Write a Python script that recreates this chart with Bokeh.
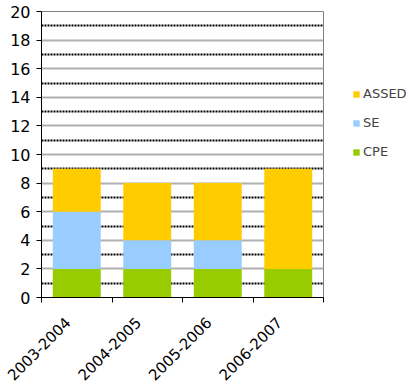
from bokeh.plotting import figure
from bokeh.models import (Range1d, LinearAxis, FixedTicker, SingleIntervalTicker,
                          Legend, LegendItem, ColumnDataSource, Grid)
from bokeh.embed import file_html
from bokeh.resources import INLINE
import math

# School years and the three programme counts per year
years = ["2003-2004", "2004-2005", "2005-2006", "2006-2007"]
cpe = [2, 2, 2, 2]
se = [4, 2, 2, 0]
assed = [3, 4, 4, 7]

series = ["CPE", "SE", "ASSED"]
colors = ["#99CC00", "#99CCFF", "#FFCC00"]

FONT = "DejaVu Sans"
Y_MAX = 20

positions = [i + 0.5 for i in range(len(years))]
boundaries = list(range(len(years) + 1))
source = ColumnDataSource(dict(x=positions, CPE=cpe, SE=se, ASSED=assed))

p = figure(frame_width=282, frame_height=286, output_backend="svg", toolbar_location=None,
           x_range=Range1d(0, len(years)), y_range=Range1d(0, Y_MAX),
           min_border_left=41, min_border_right=86, min_border_top=11, min_border_bottom=90,
           x_axis_type=None, y_axis_type=None)
p.outline_line_color = "#808080"
p.outline_line_width = 1
p.background_fill_color = "white"
p.border_fill_color = "white"

# y axis labelled every 2
yticker = SingleIntervalTicker(interval=2, num_minor_ticks=0)
yaxis = LinearAxis(ticker=yticker)
yaxis.axis_line_color = "black"
yaxis.major_tick_line_color = "black"
yaxis.major_tick_out = 5
yaxis.major_tick_in = 0
yaxis.minor_tick_line_color = None
yaxis.major_label_standoff = 6
yaxis.major_label_text_font = FONT
yaxis.major_label_text_font_size = "16px"
yaxis.major_label_text_color = "black"
p.add_layout(yaxis, "left")

# solid grey lines on the even values
even_grid = Grid(dimension=1, ticker=yticker)
even_grid.grid_line_color = "#B0B0B0"
even_grid.grid_line_width = 2
even_grid.minor_grid_line_color = None
p.add_layout(even_grid)

# dotted black lines on the odd values
odd_grid = Grid(dimension=1, ticker=FixedTicker(ticks=list(range(1, Y_MAX, 2))))
odd_grid.grid_line_color = "black"
odd_grid.grid_line_dash = "2 1"
odd_grid.grid_line_width = 2
p.add_layout(odd_grid)

# x axis: year labels near the category centres, tick marks on the boundaries
label_shift = 0.13
label_pos = [x - label_shift for x in positions]
xaxis = LinearAxis(ticker=FixedTicker(ticks=label_pos, minor_ticks=boundaries))
xaxis.major_label_overrides = {pos: yr for pos, yr in zip(label_pos, years)}
xaxis.axis_line_color = "black"
xaxis.major_tick_line_color = None
xaxis.minor_tick_line_color = "black"
xaxis.minor_tick_out = 5
xaxis.minor_tick_in = 0
xaxis.major_label_orientation = math.pi / 4
xaxis.major_label_standoff = 16
xaxis.major_label_text_font = FONT
xaxis.major_label_text_font_size = "15px"
xaxis.major_label_text_color = "black"
p.add_layout(xaxis, "below")

renderers = p.vbar_stack(series, x="x", width=0.68, color=colors, source=source,
                         line_color=None)

items = [LegendItem(label=name, renderers=[r]) for name, r in zip(series, renderers)]
legend = Legend(items=list(reversed(items)), location=(29, 138),
                glyph_width=8, glyph_height=8, label_standoff=3,
                label_text_font=FONT, label_text_font_size="13px",
                label_height=14, spacing=14, padding=0, margin=0,
                border_line_color=None, background_fill_alpha=0)
p.add_layout(legend, "right")

open("out.html", "w").write(file_html(p, INLINE))
